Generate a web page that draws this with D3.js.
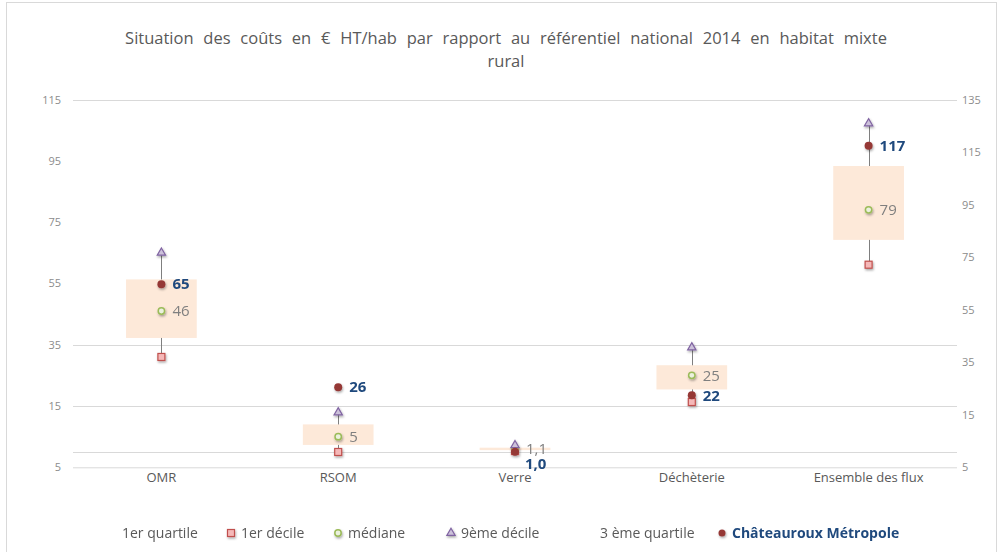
<!DOCTYPE html>
<html>
<head>
<meta charset="utf-8">
<script src="https://cdn.jsdelivr.net/npm/d3@7"></script>
<style>
  body { margin: 0; background: #fff; }
  svg { display: block; font-family: 'Open Sans', sans-serif; }
</style>
</head>
<body>
<script>
const categories = ['OMR', 'RSOM', 'Verre', 'Déchèterie', 'Ensemble des flux'];

// left axis series
const decile1 = [31, 0, 0.3, 16.3, 61.1];
const quartile1 = [37.2, 2.3, 0.6, 20.4, 69.2];
const mediane = [46, 5, 1.1, 25, 79];
const quartile3 = [56.3, 9, 1.4, 28.3, 93.3];
const decile9 = [65, 12.9, 2.2, 34.1, 107.2];
const medianeLabels = ['46', '5', '1,1', '25', '79'];

// right axis series
const chateauroux = [64.7, 25.5, 0.9, 22.4, 117.4];
const chateaurouxLabels = ['65', '26', '1,0', '22', '117'];

const leftTicks = [-5, 15, 35, 55, 75, 95, 115];
const leftTickLabels = ['5', '15', '35', '55', '75', '95', '115'];
const rightTicks = [-5, 15, 35, 55, 75, 95, 115, 135];
const rightTickLabels = ['5', '15', '35', '55', '75', '95', '115', '135'];
const gridValues = [0, 15, 35, 115];

const legendLabels = ['1er quartile', '1er décile', 'médiane', '9ème décile', '3 ème quartile', 'Châteauroux Métropole'];

const width = 998;
const height = 552;
const plot = { left: 73, right: 957, top: 99.5, bottom: 467.3 };

function main() {
  const svg = d3.select('body').append('svg').attr('width', width).attr('height', height);

  const defs = svg.append('defs');
  defs.append('filter').attr('id', 'shadow')
    .attr('x', '-50%').attr('y', '-50%').attr('width', '200%').attr('height', '200%')
    .append('feDropShadow')
    .attr('dx', 0.8).attr('dy', 1.5).attr('stdDeviation', 1)
    .attr('flood-color', '#000').attr('flood-opacity', 0.35);

  svg.append('rect')
    .attr('x', 6.5).attr('y', 2.5).attr('width', 990).attr('height', 600)
    .attr('fill', 'none').attr('stroke', '#d9d9d9');

  const x = d3.scaleBand().domain(categories).range([plot.left, plot.right]);
  const yLeft = d3.scaleLinear().domain([-5, 115]).range([plot.bottom, plot.top]);
  const yRight = d3.scaleLinear().domain([-5, 135]).range([plot.bottom, plot.top]);
  const cx = i => x(categories[i]) + x.bandwidth() / 2;
  const boxW = x.bandwidth() * 0.4;

  // title
  const title = svg.append('text')
    .attr('x', 506).attr('text-anchor', 'middle')
    .attr('fill', '#595959').attr('font-size', 16.5)
    .style('word-spacing', '5.5px');
  title.append('tspan').attr('x', 506).attr('y', 44)
    .text('Situation des coûts en € HT/hab par rapport au référentiel national 2014 en habitat mixte');
  title.append('tspan').attr('x', 506).attr('y', 67).text('rural');

  // gridlines
  svg.append('g').selectAll('line')
    .data(gridValues)
    .join('line')
    .attr('x1', plot.left).attr('x2', plot.right)
    .attr('y1', d => Math.round(yLeft(d)) + 0.5).attr('y2', d => Math.round(yLeft(d)) + 0.5)
    .attr('stroke', '#d9d9d9');

  // axes
  const leftAxis = svg.append('g')
    .attr('transform', `translate(${plot.left},0)`)
    .call(d3.axisLeft(yLeft).tickValues(leftTicks).tickSize(0).tickPadding(12)
      .tickFormat((d, i) => leftTickLabels[i]));
  const rightAxis = svg.append('g')
    .attr('transform', `translate(${plot.right},0)`)
    .call(d3.axisRight(yRight).tickValues(rightTicks).tickSize(0).tickPadding(5)
      .tickFormat((d, i) => rightTickLabels[i]));
  [leftAxis, rightAxis].forEach(a => {
    a.select('.domain').remove();
    a.selectAll('text').attr('fill', '#8c8c8c').attr('font-size', 11).attr('font-family', 'Open Sans, sans-serif');
  });

  const xAxis = svg.append('g')
    .attr('transform', `translate(0,${plot.bottom})`)
    .call(d3.axisBottom(x).tickSize(0).tickPadding(5));
  xAxis.select('.domain').attr('stroke', '#d9d9d9').attr('d', `M${plot.left},0.5H${plot.right}`);
  xAxis.selectAll('text').attr('fill', '#595959').attr('font-size', 13).attr('font-family', 'Open Sans, sans-serif');

  const idx = d3.range(categories.length);

  // whiskers
  svg.append('g').selectAll('line')
    .data(idx)
    .join('line')
    .attr('x1', i => Math.round(cx(i)) + 0.5).attr('x2', i => Math.round(cx(i)) + 0.5)
    .attr('y1', i => yLeft(decile9[i])).attr('y2', i => yLeft(decile1[i]))
    .attr('stroke', '#7f7f7f').attr('stroke-width', 1);

  // boxes
  svg.append('g').selectAll('rect')
    .data(idx)
    .join('rect')
    .attr('x', i => cx(i) - boxW / 2)
    .attr('width', boxW)
    .attr('y', i => yLeft(quartile3[i]))
    .attr('height', i => yLeft(quartile1[i]) - yLeft(quartile3[i]))
    .attr('fill', '#fde9d9');

  const marks = svg.append('g').attr('filter', 'url(#shadow)');

  // 1er décile
  marks.append('g').selectAll('rect')
    .data(idx)
    .join('rect')
    .attr('x', i => cx(i) - 3.5).attr('y', i => yLeft(decile1[i]) - 3.5)
    .attr('width', 7).attr('height', 7)
    .attr('fill', '#f5b8b8').attr('stroke', '#c0504d').attr('stroke-width', 1.2);

  // médiane
  marks.append('g').selectAll('circle')
    .data(idx)
    .join('circle')
    .attr('cx', cx).attr('cy', i => yLeft(mediane[i]))
    .attr('r', 3.2)
    .attr('fill', '#ebf1de').attr('stroke', '#9bbb59').attr('stroke-width', 1.5);

  // 9ème décile
  const tri = d3.symbol().type(d3.symbolTriangle).size(30);
  marks.append('g').selectAll('path')
    .data(idx)
    .join('path')
    .attr('transform', i => `translate(${cx(i)},${yLeft(decile9[i])})`)
    .attr('d', tri)
    .attr('fill', '#ccc1da').attr('stroke', '#8064a2').attr('stroke-width', 1.2);

  // Châteauroux Métropole
  marks.append('g').selectAll('circle')
    .data(idx)
    .join('circle')
    .attr('cx', cx).attr('cy', i => yRight(chateauroux[i]))
    .attr('r', 4)
    .attr('fill', '#953735');

  // labels
  svg.append('g').selectAll('text')
    .data(idx)
    .join('text')
    .attr('x', i => cx(i) + 11).attr('y', i => yLeft(mediane[i]))
    .attr('dy', '0.35em')
    .attr('fill', '#7f7f7f').attr('font-size', 15)
    .text(i => medianeLabels[i]);

  const nudge = { 2: [-1, 12] };
  svg.append('g').selectAll('text')
    .data(idx)
    .join('text')
    .attr('x', i => cx(i) + 11 + (nudge[i] ? nudge[i][0] : 0))
    .attr('y', i => yRight(chateauroux[i]) + (nudge[i] ? nudge[i][1] : 0))
    .attr('dy', '0.35em')
    .attr('fill', '#1f497d').attr('font-size', 15).attr('font-weight', 'bold')
    .text(i => chateaurouxLabels[i]);

  // legend
  const legendX = [122, 241, 348, 461, 600, 732];
  const legendY = 533;
  const legend = svg.append('g');
  legend.selectAll('text')
    .data(legendLabels)
    .join('text')
    .attr('x', (d, i) => legendX[i]).attr('y', legendY)
    .attr('dy', '0.35em')
    .attr('font-size', 14)
    .attr('fill', (d, i) => i === 5 ? '#1f497d' : '#595959')
    .attr('font-weight', (d, i) => i === 5 ? 'bold' : 'normal')
    .text(d => d);

  const lg = legend.append('g').attr('filter', 'url(#shadow)');
  lg.append('rect')
    .attr('x', legendX[1] - 13.5).attr('y', legendY - 3.5).attr('width', 7).attr('height', 7)
    .attr('fill', '#f5b8b8').attr('stroke', '#c0504d').attr('stroke-width', 1.2);
  lg.append('circle')
    .attr('cx', legendX[2] - 10).attr('cy', legendY).attr('r', 3.2)
    .attr('fill', '#ebf1de').attr('stroke', '#9bbb59').attr('stroke-width', 1.5);
  lg.append('path')
    .attr('transform', `translate(${legendX[3] - 10},${legendY})`)
    .attr('d', tri)
    .attr('fill', '#ccc1da').attr('stroke', '#8064a2').attr('stroke-width', 1.2);
  lg.append('circle')
    .attr('cx', legendX[5] - 10).attr('cy', legendY).attr('r', 3.5)
    .attr('fill', '#953735');
}

main();
</script>
</body>
</html>
